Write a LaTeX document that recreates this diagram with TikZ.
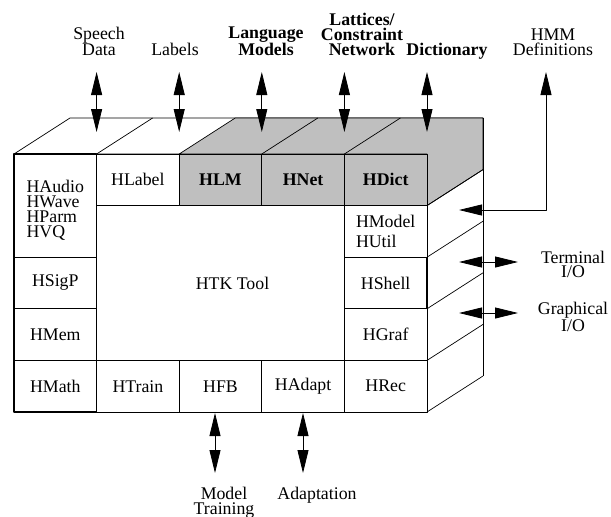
\documentclass[tikz,border=0pt]{standalone}
\usepackage{fontspec}
\setmainfont{Liberation Serif}
\usetikzlibrary{arrows.meta}
\definecolor{libgray}{gray}{0.75}
\newcommand\htkfont{\fontsize{17.8}{15}\selectfont}
\tikzset{
  cell/.style={draw, line width=0.7pt, minimum width=82.6pt, minimum height=51.6pt, inner sep=0pt},
  hcell/.style={cell, line width=1.3pt},
  libcell/.style={cell, fill=libgray, font=\htkfont\bfseries},
  io/.style={line width=0.8pt, {Triangle[length=23pt,width=11pt]}-{Triangle[length=23pt,width=11pt]}},
  lbl/.style={inner sep=0pt, align=center}
}
\begin{document}
\begin{tikzpicture}[x=1pt, y=-1pt, font=\htkfont, line join=round]
\useasboundingbox (0,0) rectangle (611,517);
% top and right faces of the block
\draw[line width=0.7pt] (14,154) -- (70,118) -- (483,118) -- (427,154) -- cycle;
\filldraw[fill=libgray, line width=0.7pt] (179.2,154) -- (235.2,118) -- (483,118) -- (483,169.6) -- (427,205.6) -- (427,154) -- cycle;
\foreach \x in {96.6,261.8,344.4}
  \draw[line width=0.7pt] (\x,154) -- ++(56,-36);
\foreach \y in {205.6,257.2,308.8,360.4,412}
  \draw[line width=0.7pt] (427,\y) -- ++(56,-36);
\draw[line width=0.7pt] (483,118) -- (483,376);

% front face
\node[hcell, minimum height=103.2pt] (haudio) at (55.3,205.6) {};
\node[align=left, inner sep=0pt] (haudiotext) at (55.3,210) {HAudio\\HWave\\HParm\\HVQ};
\node[hcell] (hsigp) at (55.3,283) {HSigP};
\node[hcell] (hmem) at (55.3,334.6) {HMem};
\node[hcell] (hmath) at (55.3,386.2) {HMath};
\node[cell] (hlabel) at (137.9,179.8) {HLabel};
\node[libcell] (hlm) at (220.5,179.8) {HLM};
\node[libcell] (hnet) at (303.1,179.8) {HNet};
\node[libcell] (hdict) at (385.7,179.8) {HDict};
\node[cell, align=left] (hmodel) at (385.7,231.4) {HModel\\[5pt]HUtil};
\node[hcell] (hshell) at (385.7,283) {HShell};
\node[cell] (hgraf) at (385.7,334.6) {HGraf};
\node[cell] (htrain) at (137.9,386.2) {HTrain};
\node[cell] (hfb) at (220.5,386.2) {HFB};
\node[cell] (hadapt) at (303.1,386.2) {HAdapt};
\node[cell] (hrec) at (385.7,386.2) {HRec};
\node (htk) at (232.5,283) {HTK Tool};

% inputs and outputs
\node[lbl, anchor=south] (spdlbl) at (99,56) {Speech\\Data};
\node[lbl, anchor=south] (lablbl) at (175,56) {Labels};
\node[lbl, anchor=south, font=\htkfont\bfseries] (lmlbl) at (266,56) {Language\\Models};
\node[lbl, anchor=south, font=\htkfont\bfseries] (netlbl) at (362,56) {Lattices/\\Constraint\\Network};
\node[lbl, anchor=south, font=\htkfont\bfseries] (dictlbl) at (447,60) {Dictionary};
\node[lbl, anchor=south] (hmmlbl) at (553,56) {HMM\\Definitions};
\foreach \x/\n in {96.6/spd,179.2/lab,261.8/lm,344.4/net,427/dict} {
  \coordinate (\n top) at (\x,72);
  \coordinate (\n end) at (\x,132);
  \draw[io] (\n top) -- (\n end);
}
\coordinate (hmmtop) at (546,72);
\coordinate (hmmend) at (459,210);
\draw[io] (hmmtop) |- (hmmend);

\node[lbl, anchor=north, font=\fontsize{17.8}{14}\selectfont] (termlbl) at (573,251) {Terminal\\I/O};
\node[lbl, anchor=north, font=\fontsize{17.8}{14}\selectfont] (graflbl) at (573,302) {Graphical\\I/O};
\coordinate (termin) at (459,262);
\coordinate (termout) at (518,262);
\coordinate (grafin) at (459,313);
\coordinate (grafout) at (518,313);
\draw[io] (termin) -- (termout);
\draw[io] (grafin) -- (grafout);

\node[lbl, anchor=north] (trainlbl) at (224,487) {Model\\Training};
\node[lbl, anchor=north] (adaptlbl) at (317,487) {Adaptation};
\coordinate (traintop) at (215,413);
\coordinate (trainend) at (215,473);
\coordinate (adapttop) at (303,413);
\coordinate (adaptend) at (303,473);
\draw[io] (traintop) -- (trainend);
\draw[io] (adapttop) -- (adaptend);
\end{tikzpicture}
\end{document}
